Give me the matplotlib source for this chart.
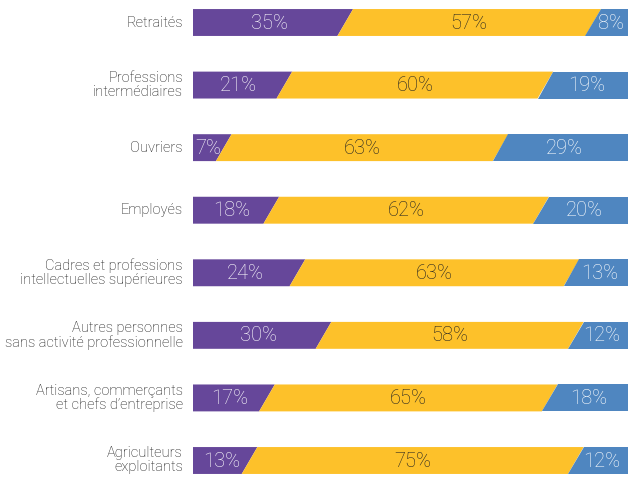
import matplotlib.pyplot as plt
from matplotlib.patches import Polygon

categories = [
    "Retraités",
    "Professions\nintermédiaires",
    "Ouvriers",
    "Employés",
    "Cadres et professions\nintellectuelles supérieures",
    "Autres personnes\nsans activité professionnelle",
    "Artisans, commerçants\net chefs d\u2019entreprise",
    "Agriculteurs\nexploitants",
]
purple_vals = [35, 21, 7, 18, 24, 30, 17, 13]
yellow_vals = [57, 60, 63, 62, 63, 58, 65, 75]
blue_vals = [8, 19, 29, 20, 13, 12, 18, 12]

colors = ["#66479a", "#fdc12a", "#4f86c0"]
text_colors = ["white", "#222222", "white"]

plt.rcParams['font.family'] = ['Roboto', 'DejaVu Sans']

fig = plt.figure(figsize=(6.28, 4.78), dpi=100)
ax = fig.add_axes([193 / 628, 0, 1 - 193 / 628, 1])

bar_h = 0.43
slant = 1.8

for i, cat in enumerate(categories):
    vals = [purple_vals[i], yellow_vals[i], blue_vals[i]]
    total = sum(vals)
    left = 0
    for j, v in enumerate(vals):
        right = left + v * 100 / total
        lt = left + slant if j > 0 else left
        lb = left - slant if j > 0 else left
        rt = right + slant if j < 2 else right + 2
        rb = right - slant if j < 2 else right + 2
        poly = Polygon([(lt, i - bar_h / 2), (rt, i - bar_h / 2),
                        (rb, i + bar_h / 2), (lb, i + bar_h / 2)],
                       closed=True, facecolor=colors[j], edgecolor='none')
        ax.add_patch(poly)
        ax.text((left + right) / 2, i + 0.01, f"{v}%", ha='center', va='center',
                fontsize=14.5, fontweight='light', color=text_colors[j])
        left = right
    ax.text(-2.3, i, cat, ha='right', va='center', fontsize=10.5,
            fontweight='light', color="#111111", linespacing=1.0, clip_on=False)

ax.set_xlim(0, 100)
ax.set_ylim(7 + 17.5 / 62.57, -22.5 / 62.57)
ax.axis('off')

fig.savefig("out.png", dpi=100)
